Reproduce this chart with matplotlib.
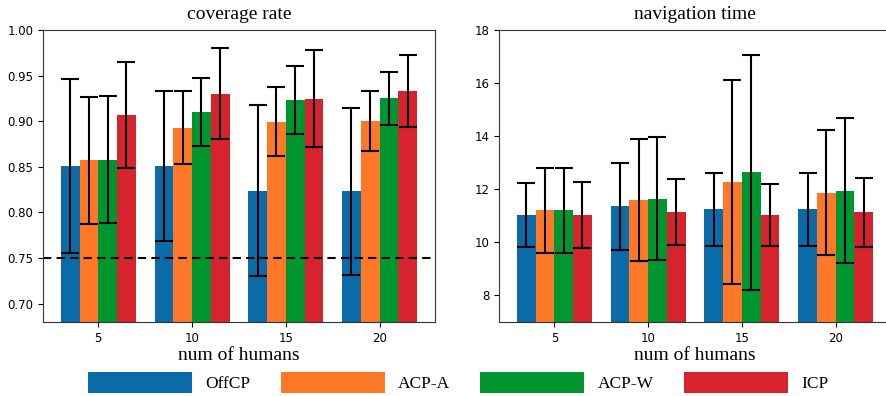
import matplotlib.pyplot as plt
import numpy as np

humans = ['5', '10', '15', '20']
methods = ['OffCP', 'ACP-A', 'ACP-W', 'ICP']
colors = ['#0b6aa8', '#fe7828', '#00962f', '#d7232e']

# coverage rate (mean, std) per method, over 5/10/15/20 humans
cov_mean = {
    'OffCP': [0.851, 0.851, 0.824, 0.823],
    'ACP-A': [0.857, 0.893, 0.8995, 0.900],
    'ACP-W': [0.858, 0.910, 0.923, 0.925],
    'ICP':   [0.907, 0.930, 0.9246, 0.933],
}
cov_err = {
    'OffCP': [0.095, 0.082, 0.094, 0.092],
    'ACP-A': [0.070, 0.040, 0.038, 0.033],
    'ACP-W': [0.070, 0.037, 0.0375, 0.029],
    'ICP':   [0.058, 0.050, 0.053, 0.039],
}

# navigation time (mean, std)
nav_mean = {
    'OffCP': [11.03, 11.35, 11.24, 11.24],
    'ACP-A': [11.20, 11.60, 12.28, 11.87],
    'ACP-W': [11.20, 11.65, 12.63, 11.95],
    'ICP':   [11.03, 11.13, 11.03, 11.13],
}
nav_err = {
    'OffCP': [1.19, 1.63, 1.37, 1.38],
    'ACP-A': [1.61, 2.29, 3.85, 2.36],
    'ACP-W': [1.61, 2.32, 4.42, 2.73],
    'ICP':   [1.23, 1.25, 1.18, 1.31],
}

target_coverage = 0.75

fig = plt.figure(figsize=(8.86, 3.96), dpi=100)
ax1 = fig.add_axes([0.0485, 0.187, 0.4424, 0.7374])
ax2 = fig.add_axes([0.5632, 0.187, 0.4424, 0.7374])

x = np.arange(len(humans))
w = 0.2
serif = 'Liberation Serif'

def draw(ax, means, errs):
    handles = []
    for i, m in enumerate(methods):
        b = ax.bar(x + (i - 1.5) * w, means[m], w, yerr=errs[m], color=colors[i],
                   capsize=6.5, error_kw=dict(elinewidth=1.5, capthick=1.5, ecolor='black'),
                   label=m)
        handles.append(b)
    ax.set_xticks(x)
    ax.set_xticklabels(humans)
    ax.tick_params(labelsize=8.5)
    ax.set_xlabel('num of humans', family=serif, fontsize=14, labelpad=2)
    for s in ax.spines.values():
        s.set_color('#333333')
    return handles

handles = draw(ax1, cov_mean, cov_err)
ax1.axhline(target_coverage, color='black', ls='--', lw=1.5, dashes=(4, 2.5))
ax1.set_ylim(0.68, 1.0)
ax1.set_yticks([0.70, 0.75, 0.80, 0.85, 0.90, 0.95, 1.00])
ax1.set_title('coverage rate', family=serif, fontsize=14, pad=8)

draw(ax2, nav_mean, nav_err)
ax2.set_ylim(7, 18)
ax2.set_yticks([8, 10, 12, 14, 16, 18])
ax2.set_title('navigation time', family=serif, fontsize=14, pad=8)

fig.legend(handles=handles, labels=methods, loc='center', ncol=4,
           bbox_to_anchor=(0.517, 0.035), frameon=False,
           prop={'family': serif, 'size': 12.5},
           handlelength=6.0, handleheight=1.5, handletextpad=0.75,
           columnspacing=1.75)

fig.savefig('out.png', dpi=100)
